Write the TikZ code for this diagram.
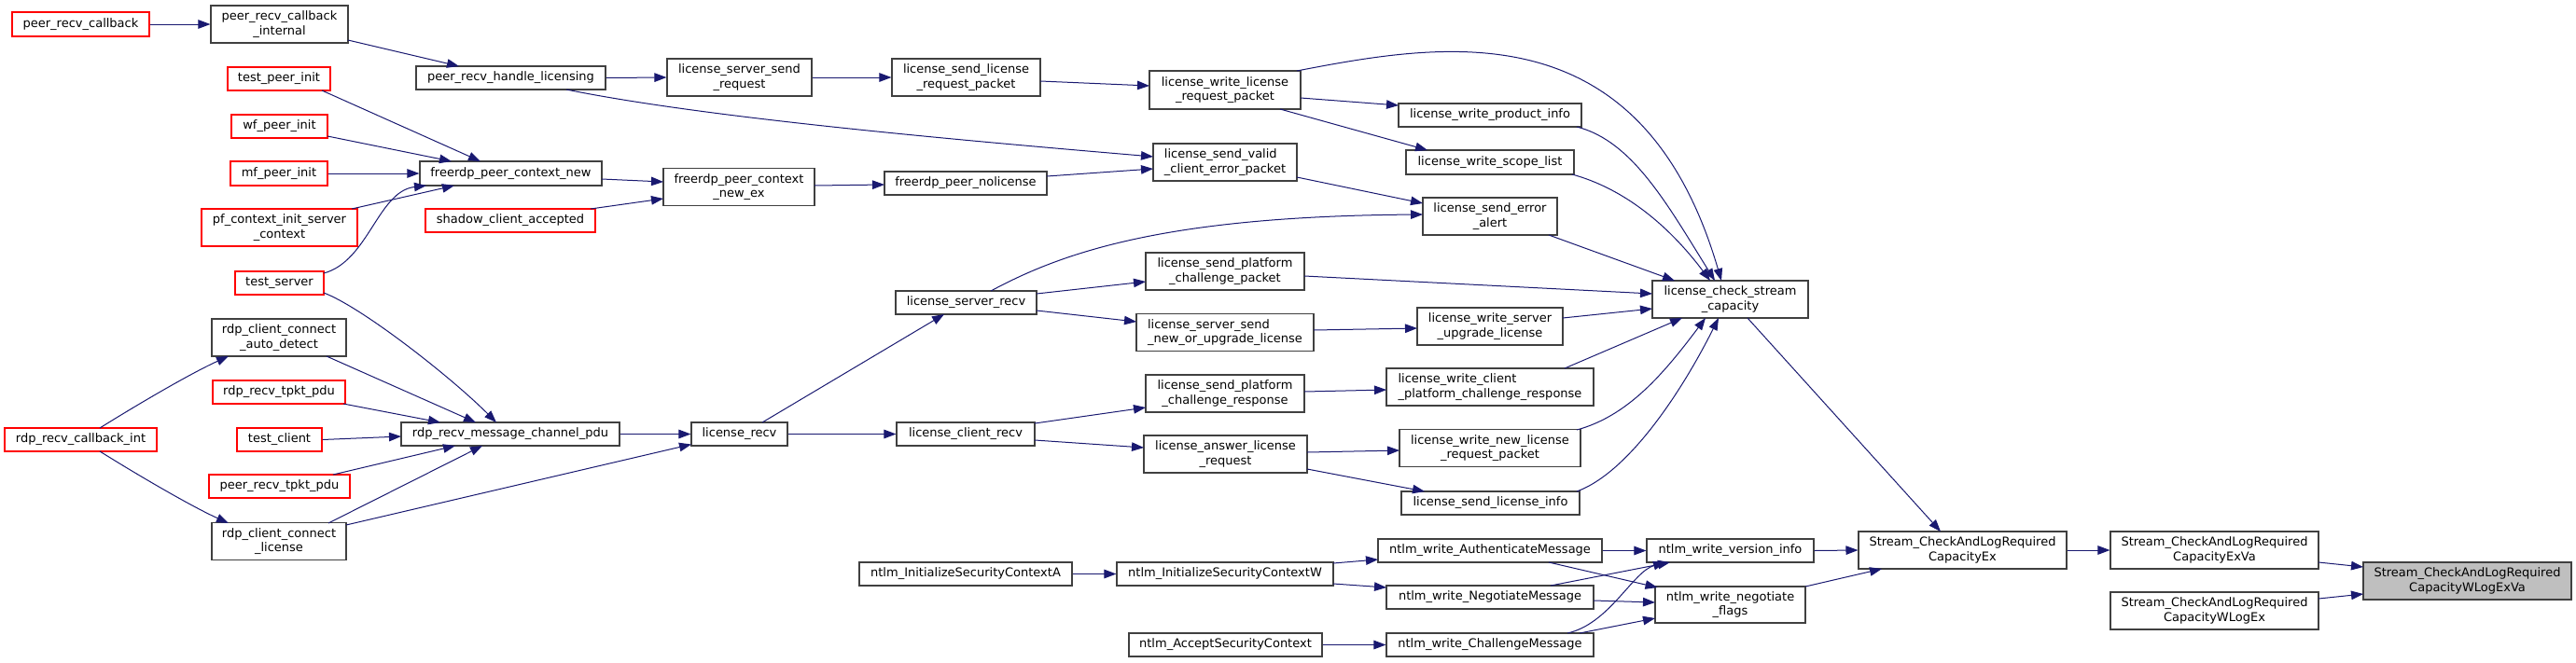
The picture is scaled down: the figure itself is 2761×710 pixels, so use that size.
\documentclass[tikz,border=0pt]{standalone}
\usepackage{fontspec}
\setmainfont{DejaVu Sans}
\usetikzlibrary{arrows.meta,calc}
\definecolor{edgeblue}{HTML}{191970}
\definecolor{ndgray}{HTML}{404040}
\definecolor{ndred}{HTML}{FF0000}
\definecolor{tgtfill}{HTML}{BFBFBF}
\tikzset{
  nd/.style={draw=ndgray, line width=1.1pt, fill=white, inner sep=0pt, font=\fontsize{13}{15.3}\selectfont, align=center},
  rd/.style={nd, draw=ndred},
  ed/.style={draw=edgeblue, line width=1pt, -{Triangle[length=13pt,width=9.5pt]}},
}
\begin{document}
\begin{tikzpicture}[x=1pt,y=-1pt]
\useasboundingbox (0,0) rectangle (2761,710);
% nodes
\node[rd,minimum width=147pt,minimum height=26pt] (prc) at (86.5,26) {peer\_recv\_callback};
\node[nd,minimum width=147pt,minimum height=40pt] (prci) at (299.5,26) {peer\_recv\_callback\\\_internal};
\node[rd,minimum width=110pt,minimum height=25pt] (tpi) at (299,84.5) {test\_peer\_init};
\node[rd,minimum width=103pt,minimum height=25pt] (wpi) at (299.5,135.5) {wf\_peer\_init};
\node[rd,minimum width=104pt,minimum height=26pt] (mpi) at (299,186) {mf\_peer\_init};
\node[rd,minimum width=167pt,minimum height=40pt] (pfc) at (299.5,244) {pf\_context\_init\_server\\\_context};
\node[rd,minimum width=95pt,minimum height=25pt] (ts) at (299.5,303.5) {test\_server};
\node[nd,minimum width=144pt,minimum height=40pt] (rccad) at (299,362) {rdp\_client\_connect\\\_auto\_detect};
\node[rd,minimum width=163pt,minimum height=25pt] (rrci) at (86.5,471.5) {rdp\_recv\_callback\_int};
\node[rd,minimum width=142pt,minimum height=25pt] (rrtp) at (299,420.5) {rdp\_recv\_tpkt\_pdu};
\node[rd,minimum width=91pt,minimum height=25pt] (tc) at (299.5,471.5) {test\_client};
\node[rd,minimum width=151pt,minimum height=25pt] (prtp) at (299.5,521.5) {peer\_recv\_tpkt\_pdu};
\node[nd,minimum width=144pt,minimum height=40pt] (rccl) at (299,580.5) {rdp\_client\_connect\\\_license};
\node[nd,minimum width=234pt,minimum height=25pt] (rmcp) at (547,465.5) {rdp\_recv\_message\_channel\_pdu};
\node[nd,minimum width=203pt,minimum height=25pt] (prhl) at (547.5,83.5) {peer\_recv\_handle\_licensing};
\node[nd,minimum width=195pt,minimum height=26pt] (fpcn) at (547.5,186) {freerdp\_peer\_context\_new};
\node[rd,minimum width=182pt,minimum height=25pt] (sca) at (547,236.5) {shadow\_client\_accepted};
\node[nd,minimum width=155pt,minimum height=40pt] (lssr) at (792.5,83) {license\_server\_send\\\_request};
\node[nd,minimum width=162pt,minimum height=40pt] (fpcnex) at (792,200.5) {freerdp\_peer\_context\\\_new\_ex};
\node[nd,minimum width=103pt,minimum height=25pt] (lrecv) at (792.5,465.5) {license\_recv};
\node[nd,minimum width=228pt,minimum height=25pt] (nisca) at (1035,615.5) {ntlm\_InitializeSecurityContextA};
\node[nd,minimum width=159pt,minimum height=40pt] (lslrp) at (1035.5,83) {license\_send\_license\\\_request\_packet};
\node[nd,minimum width=174pt,minimum height=25pt] (fpnl) at (1035,196.5) {freerdp\_peer\_nolicense};
\node[nd,minimum width=151pt,minimum height=25pt] (lsr) at (1035.5,324.5) {license\_server\_recv};
\node[nd,minimum width=148pt,minimum height=25pt] (lcr) at (1035,465.5) {license\_client\_recv};
\node[nd,minimum width=162pt,minimum height=41pt] (lwlrp) at (1313,96.5) {license\_write\_license\\\_request\_packet};
\node[nd,minimum width=154pt,minimum height=40pt,align=left] (lsvcep) at (1313,174) {license\_send\_valid\\\_client\_error\_packet};
\node[nd,minimum width=170pt,minimum height=40pt] (lspcp) at (1313,291) {license\_send\_platform\\\_challenge\_packet};
\node[nd,minimum width=190pt,minimum height=40pt,align=left] (lssnoul) at (1313,356.5) {license\_server\_send\\\_new\_or\_upgrade\_license};
\node[nd,minimum width=170pt,minimum height=40pt] (lspcr) at (1313,422) {license\_send\_platform\\\_challenge\_response};
\node[nd,minimum width=175pt,minimum height=40pt] (lalr) at (1313.5,487) {license\_answer\_license\\\_request};
\node[nd,minimum width=232pt,minimum height=25pt] (niscw) at (1313,615.5) {ntlm\_InitializeSecurityContextW};
\node[nd,minimum width=207pt,minimum height=25pt] (nasc) at (1313.5,691.5) {ntlm\_AcceptSecurityContext};
\node[nd,minimum width=196pt,minimum height=25pt] (lwpi) at (1597,123.5) {license\_write\_product\_info};
\node[nd,minimum width=180pt,minimum height=26pt] (lwsl) at (1597,174) {license\_write\_scope\_list};
\node[nd,minimum width=144pt,minimum height=40pt] (lsea) at (1597,232) {license\_send\_error\\\_alert};
\node[nd,minimum width=156pt,minimum height=40pt] (lwsul) at (1597,350) {license\_write\_server\\\_upgrade\_license};
\node[nd,minimum width=222pt,minimum height=40pt,align=left] (lwcpcr) at (1597,415) {license\_write\_client\\\_platform\_challenge\_response};
\node[nd,minimum width=194pt,minimum height=40pt] (lwnlrp) at (1597,480.5) {license\_write\_new\_license\\\_request\_packet};
\node[nd,minimum width=191pt,minimum height=25pt] (lsli) at (1597.5,539.5) {license\_send\_license\_info};
\node[nd,minimum width=240pt,minimum height=25pt] (nwam) at (1597,590.5) {ntlm\_write\_AuthenticateMessage};
\node[nd,minimum width=222pt,minimum height=25pt] (nwnm) at (1597,640.5) {ntlm\_write\_NegotiateMessage};
\node[nd,minimum width=222pt,minimum height=25pt] (nwcm) at (1597,691.5) {ntlm\_write\_ChallengeMessage};
\node[nd,minimum width=167pt,minimum height=40pt] (lcsc) at (1854.5,321) {license\_check\_stream\\\_capacity};
\node[nd,minimum width=179pt,minimum height=25pt] (nwvi) at (1854.5,590.5) {ntlm\_write\_version\_info};
\node[nd,minimum width=161pt,minimum height=39pt] (nwnf) at (1854.5,648.5) {ntlm\_write\_negotiate\\\_flags};
\node[nd,minimum width=223pt,minimum height=40pt] (sEx) at (2103.5,590) {Stream\_CheckAndLogRequired\\CapacityEx};
\node[nd,minimum width=223pt,minimum height=40pt] (sExVa) at (2373.5,590) {Stream\_CheckAndLogRequired\\CapacityExVa};
\node[nd,minimum width=223pt,minimum height=40pt] (sWLE) at (2373.5,655) {Stream\_CheckAndLogRequired\\CapacityWLogEx};
\node[nd,minimum width=223pt,minimum height=40pt,fill=tgtfill] (sWLEV) at (2644.5,623) {Stream\_CheckAndLogRequired\\CapacityWLogExVa};
% edges
\draw[ed] (prc.east) -- (prci.west);
\draw[ed] ($(prci)+(73.5,17)$) -- ($(prhl)+(-55.5,-12.5)$);
\draw[ed] ($(tpi)+(46,12.5)$) -- ($(fpcn)+(-32.5,-13)$);
\draw[ed] ($(wpi)+(51.5,10.5)$) -- ($(fpcn)+(-63.5,-13)$);
\draw[ed] (mpi.east) -- (fpcn.west);
\draw[ed] ($(pfc)+(77.5,-20)$) -- ($(fpcn)+(-60.5,13)$);
\draw[ed] ($(ts)+(47.5,-10.5)$) .. controls +(48,-13) and +(-52,6) .. ($(fpcn)+(-90.5,13)$);
\draw[ed] ($(ts)+(47.5,10.5)$) .. controls +(40,15) and +(-50,-50) .. ($(rmcp)+(-15,-12.5)$);
\draw[ed] ($(rccad)+(51,20)$) -- ($(rmcp)+(-37,-12.5)$);
\draw[ed] ($(rrtp)+(69,12.5)$) -- ($(rmcp)+(-75,-12.5)$);
\draw[ed] (tc.east) -- ($(rmcp)+(-117,2.5)$);
\draw[ed] ($(prtp)+(57.5,-12.5)$) -- ($(rmcp)+(-59,12.5)$);
\draw[ed] ($(rccl)+(53,-19.5)$) -- ($(rmcp)+(-30,12.5)$);
\draw[ed] ($(rccl)+(72,-17.5)$) -- ($(lrecv)+(-51.5,11)$);
\draw[ed] ($(rrci)+(20.5,-12.5)$) .. controls +(40,-25) and +(-40,18) .. ($(rccad)+(-54,20)$);
\draw[ed] ($(rrci)+(20.5,12.5)$) .. controls +(40,25) and +(-40,-18) .. ($(rccl)+(-54,-19.5)$);
\draw[ed] (rmcp.east) -- (lrecv.west);
\draw[ed] (prhl.east) -- (lssr.west);
\draw[ed] ($(prhl)+(59.5,12.5)$) .. controls +(143,29) and +(-236,-20) .. ($(lsvcep)+(-77,-6)$);
\draw[ed] ($(fpcn)+(97.5,6)$) -- ($(fpcnex)+(-81,-5.5)$);
\draw[ed] ($(sca)+(86,-12.5)$) -- ($(fpcnex)+(-81,12.5)$);
\draw[ed] ($(fpcnex)+(81,-1.5)$) -- ($(fpnl)+(-87,1.5)$);
\draw[ed] (lssr.east) -- (lslrp.west);
\draw[ed] ($(lslrp)+(79.5,4)$) -- ($(lwlrp)+(-81,-4.5)$);
\draw[ed] ($(fpnl)+(87,-7.5)$) -- ($(lsvcep)+(-77,7)$);
\draw[ed] ($(lrecv)+(24.5,-12.5)$) -- ($(lsr)+(-23.5,12.5)$);
\draw[ed] (lrecv.east) -- (lcr.west);
\draw[ed] ($(lsr)+(26.5,-12.5)$) .. controls +(78,-42) and +(-275,2) .. ($(lsea)+(-72,-2)$);
\draw[ed] ($(lsr)+(75.5,-9.5)$) -- ($(lspcp)+(-85,11)$);
\draw[ed] ($(lsr)+(75.5,8.5)$) -- ($(lssnoul)+(-95,-11.5)$);
\draw[ed] ($(lcr)+(74,-11.5)$) -- ($(lspcr)+(-85,15)$);
\draw[ed] ($(lcr)+(74,6.5)$) -- ($(lalr)+(-87.5,-7)$);
\draw[ed] ($(lwlrp)+(77,-20.5)$) .. controls +(160,-31) and +(-85,-291) .. ($(lcsc)+(-9.5,-20)$);
\draw[ed] ($(lwlrp)+(81,8.5)$) -- ($(lwpi)+(-98,-10.5)$);
\draw[ed] ($(lwlrp)+(59,20.5)$) -- ($(lwsl)+(-67,-13)$);
\draw[ed] ($(lsvcep)+(77,16)$) -- ($(lsea)+(-72,-14)$);
\draw[ed] ($(lspcp)+(85,5)$) -- ($(lcsc)+(-83.5,-6)$);
\draw[ed] ($(lssnoul)+(95,-2.5)$) -- ($(lwsul)+(-78,2)$);
\draw[ed] ($(lspcr)+(85,-2)$) -- ($(lwcpcr)+(-111,3)$);
\draw[ed] ($(lalr)+(87.5,-2)$) -- ($(lwnlrp)+(-97,2.5)$);
\draw[ed] ($(lalr)+(87.5,16)$) -- ($(lsli)+(-70.5,-12.5)$);
\draw[ed] ($(lwpi)+(93,12.5)$) .. controls +(60,15) and +(-50,-80) .. ($(lcsc)+(-16.5,-20)$);
\draw[ed] ($(lwsl)+(88,13)$) .. controls +(55,15) and +(-45,-60) .. ($(lcsc)+(-21.5,-20)$);
\draw[ed] ($(lsea)+(63,20)$) -- ($(lcsc)+(-59.5,-20)$);
\draw[ed] ($(lwsul)+(78,-9)$) -- ($(lcsc)+(-83.5,10)$);
\draw[ed] ($(lwcpcr)+(80,-20)$) -- ($(lcsc)+(-51.5,20)$);
\draw[ed] ($(lwnlrp)+(93,-19.5)$) .. controls +(55,-15) and +(-45,60) .. ($(lcsc)+(-26.5,20)$);
\draw[ed] ($(lsli)+(92.5,-12.5)$) .. controls +(55,-20) and +(-40,80) .. ($(lcsc)+(-12.5,20)$);
\draw[ed] ($(lcsc)+(18.5,20)$) -- ($(sEx)+(-23.5,-20)$);
\draw[ed] (nisca.east) -- (niscw.west);
\draw[ed] ($(niscw)+(116,-11.5)$) -- ($(nwam)+(-120,9.5)$);
\draw[ed] ($(niscw)+(116,10.5)$) -- ($(nwnm)+(-111,-10.5)$);
\draw[ed] (nasc.east) -- (nwcm.west);
\draw[ed] (nwam.east) -- (nwvi.west);
\draw[ed] ($(nwam)+(63,12.5)$) -- ($(nwnf)+(-78,-18.5)$);
\draw[ed] ($(nwnm)+(65,-12.5)$) -- ($(nwvi)+(-64.5,12.5)$);
\draw[ed] ($(nwnm)+(111,3.5)$) -- ($(nwnf)+(-80.5,-2.5)$);
\draw[ed] ($(nwcm)+(83,-12.5)$) .. controls +(45,-10) and +(-35,10) .. ($(nwvi)+(-69.5,12.5)$);
\draw[ed] ($(nwcm)+(96,-12.5)$) -- ($(nwnf)+(-80.5,14.5)$);
\draw[ed] (nwvi.east) -- (sEx.west);
\draw[ed] ($(nwnf)+(80.5,-19.5)$) -- ($(sEx)+(-86.5,20)$);
\draw[ed] (sEx.east) -- (sExVa.west);
\draw[ed] ($(sExVa)+(111.5,13)$) -- ($(sWLEV)+(-111.5,-15)$);
\draw[ed] ($(sWLE)+(111.5,-13)$) -- ($(sWLEV)+(-111.5,14)$);
\end{tikzpicture}
\end{document}
